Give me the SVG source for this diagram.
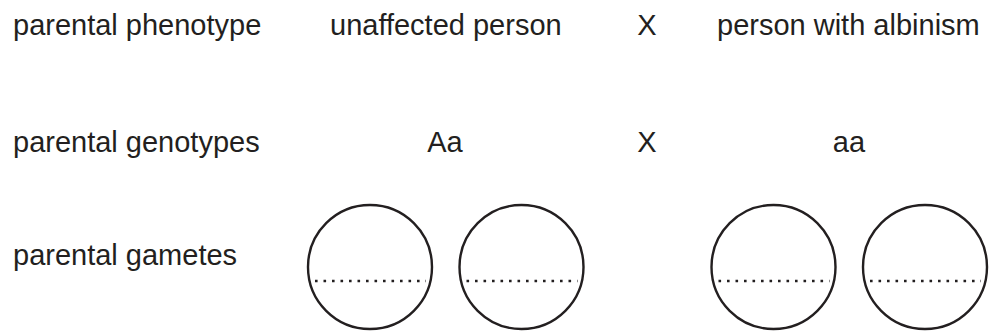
<svg xmlns="http://www.w3.org/2000/svg" width="989" height="331" viewBox="0 0 989 331">
<style>
text{font-family:"Liberation Sans",Arial,sans-serif;font-size:29px;fill:#231f20}
.c{fill:none;stroke:#231f20;stroke-width:2.4}
.d{fill:none;stroke:#231f20;stroke-width:2.6;stroke-dasharray:2.6 5.9}
</style>
<rect width="989" height="331" fill="#fff"/>
<g id="row1">
<text x="13" y="35">parental phenotype</text>
<text x="330" y="35">unaffected person</text>
<text x="647" y="35" text-anchor="middle">X</text>
<text x="717" y="35">person with albinism</text>
</g>
<g id="row2">
<text x="13" y="152">parental genotypes</text>
<text x="445" y="152" text-anchor="middle">Aa</text>
<text x="647" y="152" text-anchor="middle">X</text>
<text x="849" y="152" text-anchor="middle">aa</text>
</g>
<g id="row3">
<text x="13" y="265">parental gametes</text>
</g>
<g id="gamete1"><circle class="c" cx="370" cy="267" r="62"/><line class="d" x1="315" y1="281" x2="426" y2="281"/></g>
<g id="gamete2"><circle class="c" cx="521.5" cy="267" r="62"/><line class="d" x1="466.5" y1="281" x2="577.5" y2="281"/></g>
<g id="gamete3"><circle class="c" cx="773.5" cy="267" r="62"/><line class="d" x1="718.5" y1="281" x2="829.5" y2="281"/></g>
<g id="gamete4"><circle class="c" cx="925" cy="267" r="62"/><line class="d" x1="870" y1="281" x2="981" y2="281"/></g>
</svg>
